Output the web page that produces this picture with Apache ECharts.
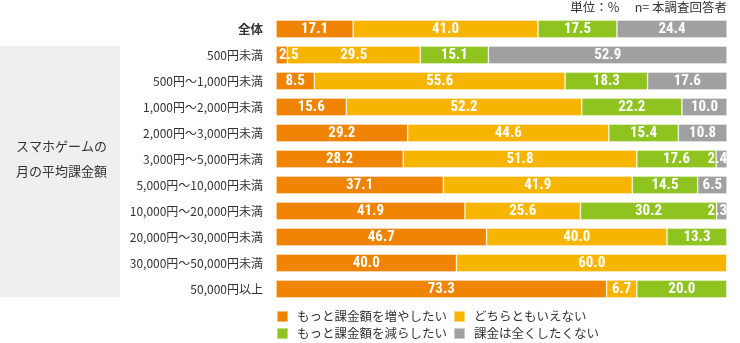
<!DOCTYPE html>
<html><head><meta charset="utf-8">
<script src="https://cdn.jsdelivr.net/npm/echarts@6/dist/echarts.min.js"></script>
<style>html,body{margin:0;padding:0;background:#fff}#c{width:740px;height:343px}</style>
</head><body><div id="c"></div>
<script>
const categories = ['全体','500円未満','500円～1,000円未満','1,000円～2,000円未満','2,000円～3,000円未満','3,000円～5,000円未満','5,000円～10,000円未満','10,000円～20,000円未満','20,000円～30,000円未満','30,000円～50,000円未満','50,000円以上'];
const seriesNames = ['もっと課金額を増やしたい','どちらともいえない','もっと課金額を減らしたい','課金は全くしたくない'];
const increase = [17.1, 2.5, 8.5, 15.6, 29.2, 28.2, 37.1, 41.9, 46.7, 40.0, 73.3];
const neutral  = [41.0, 29.5, 55.6, 52.2, 44.6, 51.8, 41.9, 25.6, 40.0, 60.0, 6.7];
const decrease = [17.5, 15.1, 18.3, 22.2, 15.4, 17.6, 14.5, 30.2, 13.3, 0, 20.0];
const none     = [24.4, 52.9, 17.6, 10.0, 10.8, 2.4, 6.5, 2.3, 0, 0, 0];
const colors = ['#f08300','#f8b500','#8fc31f','#a0a0a0'];
const values = [increase, neutral, decrease, none];

const chart = echarts.init(document.getElementById('c'));
const labelFont = "'Liberation Sans Narrow','Roboto Condensed','Roboto',sans-serif";
const catFont = "'Liberation Sans Narrow','Noto Sans CJK JP',sans-serif";
const series = values.map((arr, si) => ({
  name: seriesNames[si],
  type: 'bar',
  stack: 'total',
  barWidth: 18,
  itemStyle: {color: colors[si], borderColor: 'rgba(255,255,255,0.45)', borderWidth: 0.8},
  label: {show: true, position: 'inside', color: '#fff', fontFamily: labelFont, fontWeight: 'bold', fontSize: 15,
    formatter: p => p.value > 0 ? p.value.toFixed(1) : ''},
  data: arr.map(v => {
    if (v > 0 && v < 4) {
      return {value: v, label: {position: si === 0 ? 'insideLeft' : 'insideRight', distance: si === 0 ? 3 : 0}};
    }
    return v;
  })
}));

const legendText = {fontSize: 12.5, color: '#333', fontFamily: 'Noto Sans CJK JP', padding: [0,0,0,4]};
chart.setOption({
  animation: false,
  grid: {left: 276, right: 13, top: 16, bottom: 41},
  xAxis: {type: 'value', min: 0, max: 100, show: false},
  yAxis: {type: 'category', data: categories, inverse: true,
    axisLine: {show: false}, axisTick: {show: false},
    axisLabel: {margin: 13, color: '#333', fontSize: 12, fontFamily: catFont,
      formatter: (v, i) => i === 0 ? '{b|' + v + '}' : v,
      rich: {b: {fontWeight: 'bold', fontSize: 12.5, color: '#333', fontFamily: catFont}}}},
  legend: [
    {data: seriesNames.slice(0,2), left: 276, top: 310, padding: 0, itemWidth: 11, itemHeight: 11, itemGap: 6, icon: 'rect',
     textStyle: legendText, selectedMode: false},
    {data: seriesNames.slice(2,4), left: 276, top: 327, padding: 0, itemWidth: 11, itemHeight: 11, itemGap: 6, icon: 'rect',
     textStyle: legendText, selectedMode: false}
  ],
  graphic: [
    {type: 'rect', left: 0, top: 46, z: -1, shape: {width: 120, height: 251}, style: {fill: '#efefef'}},
    {type: 'text', left: 16, top: 134, style: {text: 'スマホゲームの\n月の平均課金額', fill: '#333', font: "13px 'Noto Sans CJK JP'", lineHeight: 25}},
    {type: 'text', right: 13, top: 1, style: {text: '単位：%　 n= 本調査回答者', fill: '#333', font: "12.5px 'Noto Sans CJK JP'"}}
  ],
  series: series
});
</script></body></html>
